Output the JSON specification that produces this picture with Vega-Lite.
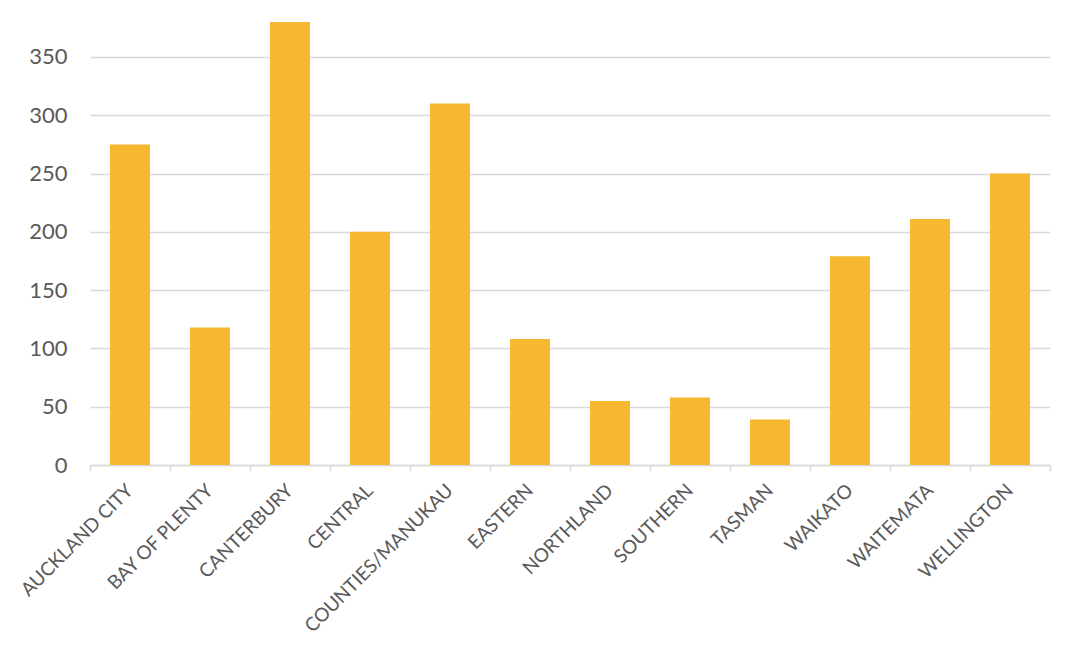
{
  "$schema": "https://vega.github.io/schema/vega-lite/v6.json",
  "autosize": "none",
  "width": 960,
  "height": 443,
  "padding": {"left": 90, "top": 22, "right": 30, "bottom": 189},
  "background": "white",
  "config": {"view": {"stroke": null}},
  "data": {"values": [
    {"region": "AUCKLAND CITY", "value": 275},
    {"region": "BAY OF PLENTY", "value": 118},
    {"region": "CANTERBURY", "value": 380},
    {"region": "CENTRAL", "value": 200},
    {"region": "COUNTIES/MANUKAU", "value": 310},
    {"region": "EASTERN", "value": 108},
    {"region": "NORTHLAND", "value": 55},
    {"region": "SOUTHERN", "value": 58},
    {"region": "TASMAN", "value": 39},
    {"region": "WAIKATO", "value": 179},
    {"region": "WAITEMATA", "value": 211},
    {"region": "WELLINGTON", "value": 250}
  ]},
  "mark": {"type": "bar", "color": "#F5B82E", "clip": true, "width": {"band": 0.5}},
  "encoding": {
    "x": {
      "field": "region", "type": "nominal", "sort": null,
      "scale": {"paddingInner": 0, "paddingOuter": 0},
      "axis": {
        "title": null, "labelAngle": -45, "labelAlign": "right", "labelBaseline": "middle",
        "labelFont": "Lato", "labelFontSize": 19, "labelColor": "#595959", "labelPadding": 16,
        "labelLimit": 400,
        "domainColor": "#d9d9d9", "domainWidth": 1.5,
        "tickColor": "#d9d9d9", "tickWidth": 1.5, "tickSize": 6,
        "bandPosition": 1, "tickExtra": true
      }
    },
    "y": {
      "field": "value", "type": "quantitative",
      "scale": {"domain": [0, 380], "nice": false},
      "axis": {
        "title": null, "values": [0, 50, 100, 150, 200, 250, 300, 350],
        "domain": false, "ticks": false, "labelPadding": 23,
        "labelFont": "Lato", "labelFontSize": 22, "labelColor": "#595959",
        "gridColor": "#d9d9d9", "gridWidth": 1.5
      }
    }
  }
}
